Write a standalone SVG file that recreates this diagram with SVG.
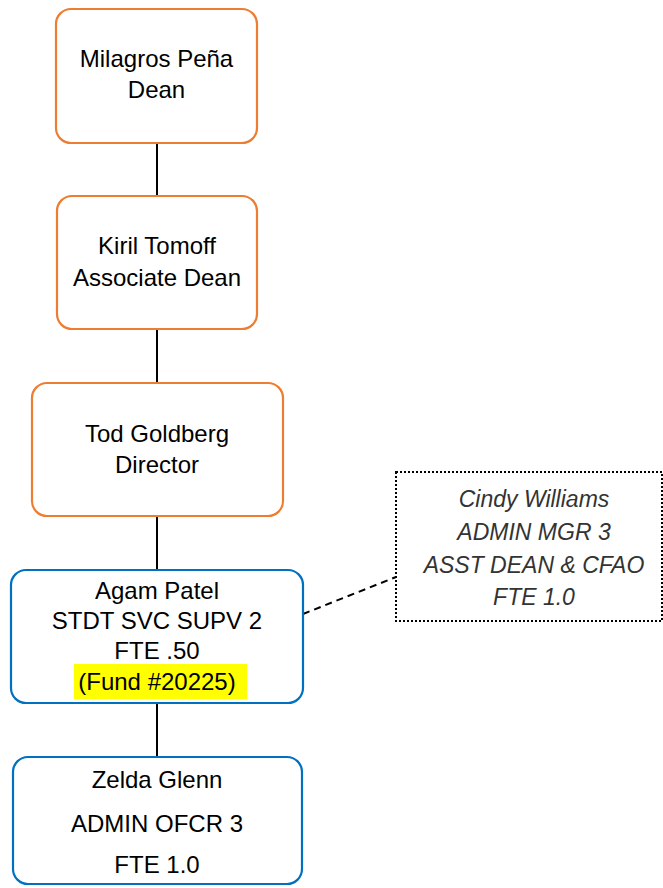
<svg xmlns="http://www.w3.org/2000/svg" width="663" height="888" viewBox="0 0 663 888">
<style>
.orange{fill:#fff;stroke:#ED7D31;stroke-width:2.2}
.blue{fill:#fff;stroke:#0070C0;stroke-width:2.2}
.t{font-family:"Liberation Sans",Arial,sans-serif;font-size:24px;fill:#000;text-anchor:middle}
.it{font-family:"Liberation Sans",Arial,sans-serif;font-size:23px;font-style:italic;fill:#333;text-anchor:middle}
.c{stroke:#000;stroke-width:2;fill:none}
</style>
<rect width="663" height="888" fill="#fff"/>
<g id="connectors">
<line class="c" x1="157" y1="143" x2="157" y2="196"/>
<line class="c" x1="157" y1="329" x2="157" y2="383"/>
<line class="c" x1="157" y1="516" x2="157" y2="570"/>
<line class="c" x1="157" y1="703" x2="157" y2="757"/>
<line class="c" x1="303" y1="614" x2="396" y2="577" stroke-dasharray="7,5" stroke-width="1.8"/>
</g>
<g id="dean">
<rect class="orange" x="56" y="9" width="201" height="134" rx="15"/>
<text class="t" x="156.5" y="67">Milagros Peña</text>
<text class="t" x="156.5" y="98">Dean</text>
</g>
<g id="assocdean">
<rect class="orange" x="57" y="196" width="200" height="133" rx="15"/>
<text class="t" x="157" y="254">Kiril Tomoff</text>
<text class="t" x="157" y="286">Associate Dean</text>
</g>
<g id="director">
<rect class="orange" x="32" y="383" width="251" height="133" rx="15"/>
<text class="t" x="157" y="442">Tod Goldberg</text>
<text class="t" x="157" y="473">Director</text>
</g>
<g id="agam">
<rect class="blue" x="11" y="570" width="292" height="133" rx="15"/>
<rect x="74" y="664" width="173" height="35" fill="#FFFF00"/>
<text class="t" x="157" y="599">Agam Patel</text>
<text class="t" x="157" y="629">STDT SVC SUPV 2</text>
<text class="t" x="157" y="659">FTE .50</text>
<text class="t" x="157" y="690">(Fund #20225)</text>
</g>
<g id="zelda">
<rect class="blue" x="13" y="757" width="289" height="127" rx="15"/>
<text class="t" x="157" y="788">Zelda Glenn</text>
<text class="t" x="157" y="832">ADMIN OFCR 3</text>
<text class="t" x="157" y="873">FTE 1.0</text>
</g>
<g id="cindy">
<rect x="396" y="472" width="266" height="149" fill="#fff" stroke="#000" stroke-width="2" stroke-dasharray="2,2"/>
<text class="it" x="534" y="507">Cindy Williams</text>
<text class="it" x="534" y="540">ADMIN MGR 3</text>
<text class="it" x="534" y="573">ASST DEAN &amp; CFAO</text>
<text class="it" x="534" y="605">FTE 1.0</text>
</g>
</svg>
